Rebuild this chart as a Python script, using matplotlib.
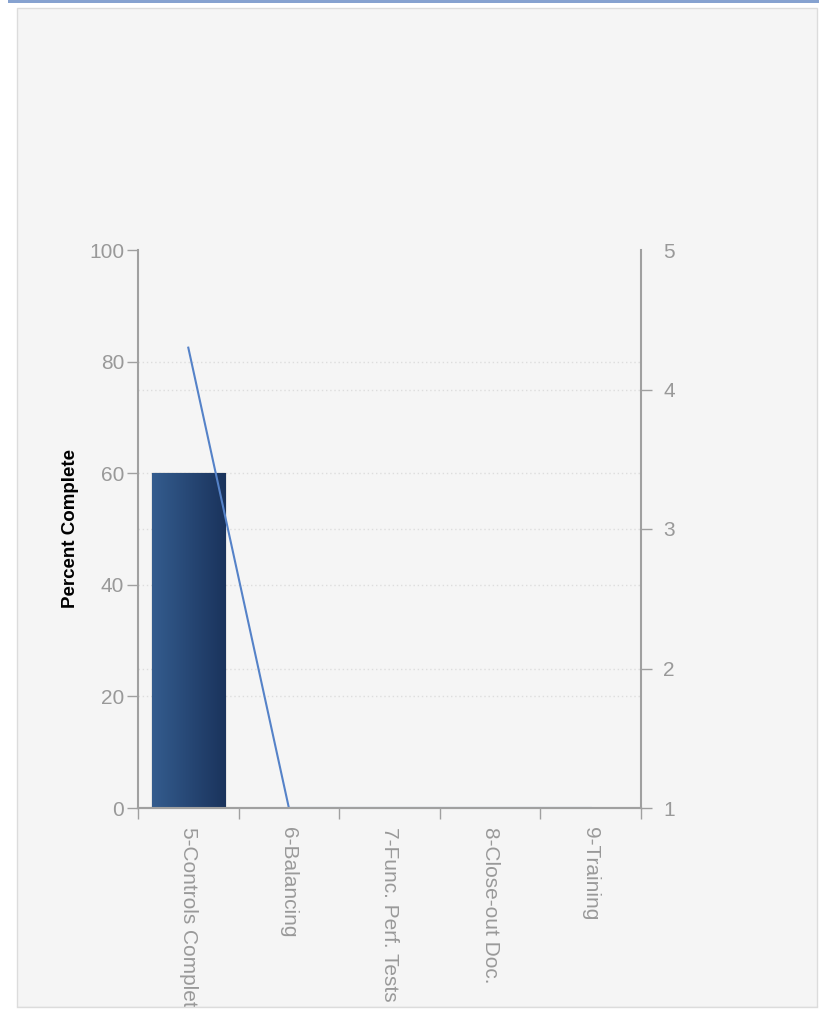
import numpy as np
import matplotlib
matplotlib.use("Agg")
import matplotlib.pyplot as plt
from matplotlib.patches import Rectangle
from matplotlib.colors import LinearSegmentedColormap
from matplotlib.transforms import blended_transform_factory

plt.rcParams['font.family'] = ['Liberation Sans', 'DejaVu Sans']

# data
categories = ['5-Controls Complete', '6-Balancing', '7-Func. Perf. Tests',
              '8-Close-out Doc.', '9-Training']
pct_complete = [60, 0, 0, 0, 0]
line_values = [4.3, 1, 1, 1, 1]
left_ticks = [0, 20, 40, 60, 80, 100]
right_ticks = [1, 2, 3, 4, 5]

W, H = 820, 1015
fig = plt.figure(figsize=(W / 100, H / 100), dpi=100)
fig.patch.set_facecolor('white')

# panel behind the chart
fig.add_artist(Rectangle((17 / W, 1 - 1007 / H), 800 / W, 999 / H,
                         transform=fig.transFigure, facecolor='#f5f5f5',
                         edgecolor='#dcdcdc', linewidth=1, zorder=-2))
# blue strip on top
fig.add_artist(Rectangle((8 / W, 1 - 3 / H), 812 / W, 3 / H,
                         transform=fig.transFigure, facecolor='#86a2d0',
                         edgecolor='none', zorder=-2))

ax = fig.add_axes([138 / W, 1 - 808 / H, 503 / W, 558 / H])
ax.set_facecolor('none')
grey = '#a0a0a0'
tick_col = '#999999'
grid_col = '#dddddd'

x = np.arange(len(categories))
bars = ax.bar(x, pct_complete, width=0.73, facecolor='#2a4a7a',
              edgecolor='#9a9a9a', linewidth=1, zorder=3)

# horizontal gradient fill for the bars
cmap = LinearSegmentedColormap.from_list('bar', ['#345c8e', '#1a335c'])
grad = np.linspace(0, 1, 256).reshape(1, -1)
for b in bars:
    if b.get_height() <= 0:
        continue
    im = ax.imshow(grad, cmap=cmap, aspect='auto', zorder=3.5,
                   extent=[b.get_x(), b.get_x() + b.get_width(), 0, b.get_height()])
    im.set_clip_path(b)

ax.set_xlim(-0.5, len(categories) - 0.5)
ax.set_ylim(0, 100)
ax.set_yticks(left_ticks)
for v in left_ticks[1:-1]:
    ax.axhline(v, color=grid_col, linestyle=(0, (1, 2)), linewidth=1, zorder=1)

ax.set_xticks(x)
ax.set_xticklabels(categories, rotation=270, color=tick_col, fontsize=15,
                   va='top', ha='center')
ax.set_xticks(np.arange(len(categories) + 1) - 0.5, minor=True)
ax.tick_params(axis='x', which='major', length=0, pad=14)
ax.tick_params(axis='x', which='minor', length=8, width=1, color=grey)
ax.tick_params(axis='y', length=8, width=1, color=grey, labelcolor=tick_col,
               labelsize=15, pad=2)
ax.yaxis.get_major_ticks()[-1].tick1line.set_visible(False)
ax.set_ylabel('Percent Complete', fontsize=13.5, fontweight='bold', color='black',
              labelpad=7)

for s in ['top', 'right']:
    ax.spines[s].set_visible(False)
for s in ['left', 'bottom']:
    ax.spines[s].set_color(grey)
    ax.spines[s].set_linewidth(1.5)

ax2 = ax.twinx()
ax2.set_ylim(1, 5)
ax2.set_yticks(right_ticks)

# right-axis grid lines, drawn in the bar axes so they stay behind the bars
trans_r = blended_transform_factory(ax.transAxes, ax2.transData)
for v in right_ticks[1:-1]:
    ax.plot([0, 1], [v, v], transform=trans_r, color=grid_col,
            linestyle=(0, (1, 2)), linewidth=1, zorder=1)

ax2.plot(x, line_values, color='#5582c8', linewidth=1.5, zorder=2)
ax2.tick_params(axis='y', length=8, width=1, color=grey, labelcolor=tick_col,
                labelsize=15, pad=8)
ax2.yaxis.get_major_ticks()[-1].tick2line.set_visible(False)
ax2.spines['top'].set_visible(False)
ax2.spines['left'].set_visible(False)
ax2.spines['right'].set_color(grey)
ax2.spines['right'].set_linewidth(1.5)
ax2.spines['bottom'].set_color(grey)
ax2.spines['bottom'].set_linewidth(1.5)
ax2.spines['bottom'].set_zorder(5)

# panel bottom cuts the long labels
fig.add_artist(Rectangle((0, 0), 1, 1 - 1007 / H, transform=fig.transFigure,
                         facecolor='white', edgecolor='none', zorder=10))
fig.add_artist(plt.Line2D([17 / W, 817 / W], [1 - 1007 / H] * 2,
                          transform=fig.transFigure, color='#dcdcdc',
                          linewidth=1, zorder=11))

fig.savefig('out.png', dpi=100)
